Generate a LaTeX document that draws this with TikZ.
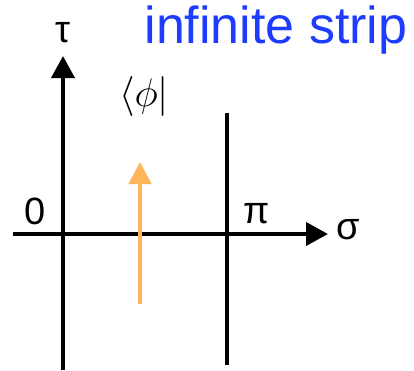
\RequirePackage{fix-cm}
\documentclass[tikz,border=0pt]{standalone}
\usepackage{fontspec}
\setmainfont{Liberation Sans}
\usepackage{xcolor}
\definecolor{stripblue}{HTML}{1E3CFF}
\definecolor{flowora}{HTML}{FFB55A}
\usepackage{tikz}
\usetikzlibrary{positioning, arrows.meta}
\tikzset{
    axis/.style = {-{Triangle[length=22pt, width=23pt]}, line width=4pt, black},
    edge/.style = {line width=3.5pt, black},
    flow/.style = {-{Triangle[length=22pt, width=22pt]}, line width=4.5pt, color=flowora},
    lbl/.style = {font=\fontsize{38}{40}\selectfont, inner sep=0pt},
}

\begin{document}
\begin{tikzpicture}[x=1pt, y=-1pt]
        \useasboundingbox (0,0) rectangle (414,370);
        % axes end points
        \coordinate (tau0) at (63,370);
        \coordinate (tau1) at (63,56);
        \coordinate (sig0) at (13,234);
        \coordinate (sig1) at (328,234);
        % strip edge at pi
        \coordinate (pi0) at (227,113);
        \coordinate (pi1) at (227,365);
        % state arrow
        \coordinate (st0) at (140,304);
        \coordinate (st1) at (140,162);
        \draw[axis] (sig0) -- (sig1);
        \draw[axis] (tau0) -- (tau1);
        \draw[edge] (pi0) -- (pi1);
        \draw[flow] (st0) -- (st1);
        % labels
        \node[lbl] (taulab) at (63,33) {τ};
        \node[lbl] (siglab) at (348,230) {σ};
        \node[lbl] (zerolab) at (35,211) {0};
        \node[lbl] (pilab) at (257,214) {π};
        \node[inner sep=0pt, font=\fontsize{40}{42}\selectfont] (bra) at (144,96) {$\langle\phi|$};
        \node[inner sep=0pt, font=\fontsize{52}{54}\selectfont, text=stripblue]
              (title) at (276,30) {infinite strip};
      \end{tikzpicture}
\end{document}
